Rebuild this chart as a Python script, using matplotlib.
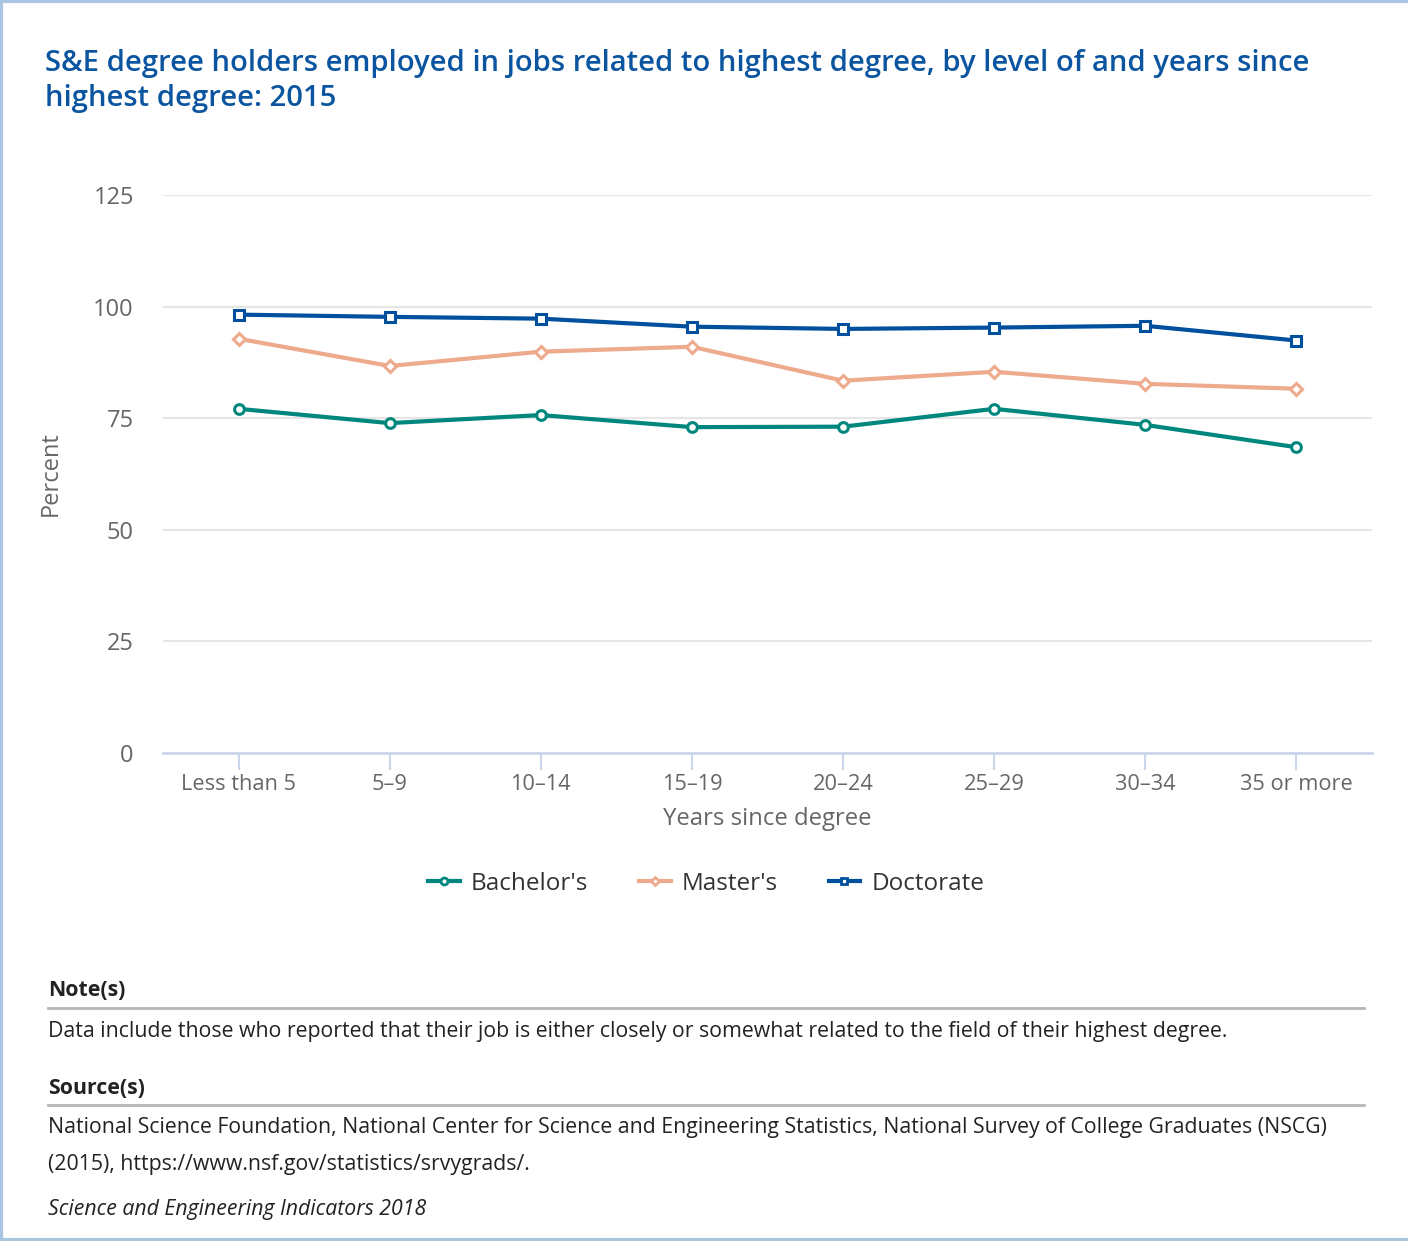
import matplotlib
matplotlib.use("Agg")
import matplotlib.pyplot as plt
from matplotlib.lines import Line2D

plt.rcParams["font.family"] = ["Open Sans", "DejaVu Sans"]

categories = ["Less than 5", "5–9", "10–14", "15–19", "20–24", "25–29", "30–34", "35 or more"]
bachelors = [77.1, 73.9, 75.7, 73.0, 73.1, 77.1, 73.5, 68.5]
masters = [92.8, 86.7, 89.9, 91.0, 83.4, 85.4, 82.7, 81.6]
doctorate = [98.2, 97.7, 97.3, 95.5, 95.0, 95.3, 95.7, 92.4]

series = [
    ("Bachelor's", bachelors, "#00877d", "o", 7),
    ("Master's", masters, "#eeaa8c", "D", 6),
    ("Doctorate", doctorate, "#00509d", "s", 7),
]

TITLE = ("S&E degree holders employed in jobs related to highest degree, by level of and years since\n"
         "highest degree: 2015")
NOTE = "Data include those who reported that their job is either closely or somewhat related to the field of their highest degree."
SOURCE = ("National Science Foundation, National Center for Science and Engineering Statistics, National Survey of College Graduates (NSCG)\n"
          "(2015), https://www.nsf.gov/statistics/srvygrads/.")
CREDIT = "Science and Engineering Indicators 2018"

W, H = 1408, 1241
fig = plt.figure(figsize=(W / 100, H / 100), dpi=100)
fig.patch.set_facecolor("white")


def fx(px):
    return px / W


def fy(py):
    return 1 - py / H


ax = fig.add_axes([fx(163), fy(753), fx(1372 - 163), (753 - 195) / H])
x = list(range(len(categories)))
for name, vals, color, marker, ms in series:
    ax.plot(x, vals, color=color, lw=3, marker=marker, ms=ms, mfc="white",
            mec=color, mew=2.2, label=name, zorder=3)

ax.set_xlim(-0.5, len(categories) - 0.5)
ax.set_ylim(0, 125)
ax.set_yticks([0, 25, 50, 75, 100, 125])
ax.set_xticks(x)
ax.set_xticklabels(categories)
ax.grid(axis="y", color="#e6e6e6", lw=1.5)
ax.set_axisbelow(True)
for side in ["top", "right", "left"]:
    ax.spines[side].set_visible(False)
ax.spines["bottom"].set_color("#ccd6eb")
ax.spines["bottom"].set_linewidth(2)
ax.tick_params(axis="x", colors="#ccd6eb", length=12, width=1.5, labelcolor="#666666",
               labelsize=15.7, pad=3)
ax.tick_params(axis="y", length=0, labelcolor="#666666", labelsize=17, pad=21)
ax.set_xlabel("Years since degree", fontsize=17.2, color="#666666", labelpad=9)
ax.set_ylabel("Percent", fontsize=17, color="#666666")
ax.yaxis.set_label_coords((63 - 163) / 1209, 0.5)

handles = [Line2D([0], [0], color=c, lw=3, marker=m, ms=ms - 2, mfc="white", mec=c, mew=2)
           for _, _, c, m, ms in series]
fig.legend(handles, [s[0] for s in series], loc="center", bbox_to_anchor=(fx(706), fy(884)),
           ncol=3, frameon=False, fontsize=17.5, handlelength=1.3, handletextpad=0.45,
           columnspacing=2.1, labelcolor="#333333")

fig.text(fx(45), fy(81), TITLE, fontsize=21.1, color="#0b55a0", fontweight="semibold",
         va="center", ha="left", linespacing=1.25)

fig.text(fx(48), fy(991), "Note(s)", fontsize=15.3, fontweight="bold", color="#222222", va="center")
fig.add_artist(Line2D([fx(48), fx(1364)], [fy(1008), fy(1008)], color="#b5b5b5", lw=2))
fig.text(fx(48), fy(1031), NOTE, fontsize=15.3, color="#222222", va="center")
fig.text(fx(48), fy(1088), "Source(s)", fontsize=15.3, fontweight="bold", color="#222222", va="center")
fig.add_artist(Line2D([fx(48), fx(1364)], [fy(1105), fy(1105)], color="#b5b5b5", lw=2))
fig.text(fx(48), fy(1146), SOURCE, fontsize=15.3, color="#222222", va="center", linespacing=1.95)
fig.text(fx(48), fy(1210), CREDIT, fontsize=15.3, style="italic", color="#222222", va="center")

# light blue frame on left, top and bottom edges
frame = "#a9c6e0"
fig.add_artist(Line2D([fx(1), fx(1)], [0, 1], color=frame, lw=3))
fig.add_artist(Line2D([0, 1], [fy(1), fy(1)], color=frame, lw=3))
fig.add_artist(Line2D([0, 1], [fy(1240), fy(1240)], color=frame, lw=3))

fig.savefig("out.png", dpi=100, facecolor="white")
